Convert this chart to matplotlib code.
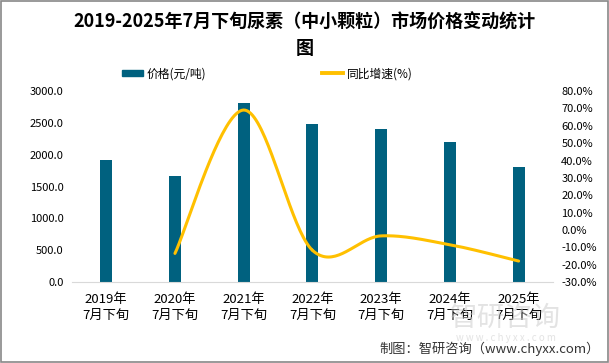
import numpy as np
import matplotlib
matplotlib.use("Agg")
import matplotlib.pyplot as plt
from matplotlib.patches import Rectangle
from matplotlib.lines import Line2D
from matplotlib.patches import Patch

plt.rcParams['font.family'] = ['Noto Sans CJK SC', 'DejaVu Sans']

categories = ["2019年\n7月下旬", "2020年\n7月下旬", "2021年\n7月下旬", "2022年\n7月下旬",
              "2023年\n7月下旬", "2024年\n7月下旬", "2025年\n7月下旬"]
price = [1916, 1665, 2816, 2487, 2403, 2199, 1806]
growth = [np.nan, -13.5, 69.1, -11.7, -3.4, -8.5, -17.9]

bar_color = "#00617F"
line_color = "#FFC000"

fig = plt.figure(figsize=(6.09, 3.63), dpi=100)
ax = fig.add_axes([0.118, 0.223, 0.79, 0.526])
ax2 = ax.twinx()

x = np.arange(len(categories))
ax.bar(x, price, width=0.175, color=bar_color, zorder=2)
ax.set_xlim(-0.5, len(categories) - 0.5)
ax.set_ylim(0, 3000)
ax.set_yticks(np.arange(0, 3001, 500))
ax.set_yticklabels([f"{v:.1f}" for v in np.arange(0, 3001, 500)], fontsize=8)
ax.set_xticks(x)
ax.set_xticklabels(categories, fontsize=9.5, linespacing=1.3)

# smooth line (Catmull-Rom through data points)
gx = np.array([i for i, g in enumerate(growth) if not np.isnan(g)], dtype=float)
gy = np.array([g for g in growth if not np.isnan(g)], dtype=float)
P = np.column_stack([gx, gy])
Pext = np.vstack([P[0], P, P[-1]])
xs, ys = [], []
for i in range(1, len(Pext) - 2):
    p0, p1, p2, p3 = Pext[i - 1], Pext[i], Pext[i + 1], Pext[i + 2]
    t = np.linspace(0, 1, 40)[:, None]
    pts = 0.5 * ((2 * p1) + (-p0 + p2) * t + (2 * p0 - 5 * p1 + 4 * p2 - p3) * t ** 2
                 + (-p0 + 3 * p1 - 3 * p2 + p3) * t ** 3)
    xs.extend(pts[:, 0]); ys.extend(pts[:, 1])
ax2.plot(xs, ys, color=line_color, lw=2.2, zorder=3, solid_capstyle='round')
ax2.set_ylim(-30, 80)
ax2.set_yticks(np.arange(-30, 81, 10))
ax2.set_yticklabels([f"{v:.1f}%" for v in np.arange(-30, 81, 10)], fontsize=8)

for a in (ax, ax2):
    for s in a.spines.values():
        s.set_visible(False)
    a.tick_params(length=0)
ax.spines['bottom'].set_visible(True)
ax.spines['bottom'].set_color("#D9D9D9")
ax.tick_params(axis='x', pad=8)
ax.tick_params(axis='y', pad=6)
ax2.tick_params(axis='y', pad=6)

fig.text(0.5, 0.938, "2019-2025年7月下旬尿素（中小颗粒）市场价格变动统计", ha='center', va='center',
         fontsize=13, fontweight='bold')
fig.text(0.5, 0.866, "图", ha='center', va='center', fontsize=13, fontweight='bold')

handles = [Patch(color=bar_color), Line2D([0], [0], color=line_color, lw=2.8)]
fig.legend(handles[:1], ["价格(元/吨)"], loc='center left', bbox_to_anchor=(0.2, 0.797),
           frameon=False, fontsize=8.5, handlelength=1.8, handleheight=0.5, handletextpad=0.3,
           borderpad=0, borderaxespad=0)
fig.legend(handles[1:], ["同比增速(%)"], loc='center left', bbox_to_anchor=(0.529, 0.797),
           frameon=False, fontsize=8.5, handlelength=1.8, handletextpad=0.3,
           borderpad=0, borderaxespad=0)

# watermark
fig.text(0.83, 0.125, "智研咨询", ha='center', va='center', fontsize=20, color="#C8C8C8", alpha=0.5)
fig.text(0.83, 0.068, "w w w . c h y x x . c o m", ha='center', va='center', fontsize=7,
         color="#C8C8C8", alpha=0.5)

fig.text(0.985, 0.04, "制图：智研咨询（www.chyxx.com）", ha='right', va='center', fontsize=9.5,
         color="#333333")

fig.add_artist(Rectangle((0.001, 0.002), 0.997, 0.995, transform=fig.transFigure,
                         fill=False, edgecolor="#888888", lw=1.2))

fig.savefig("out.png", dpi=100)
